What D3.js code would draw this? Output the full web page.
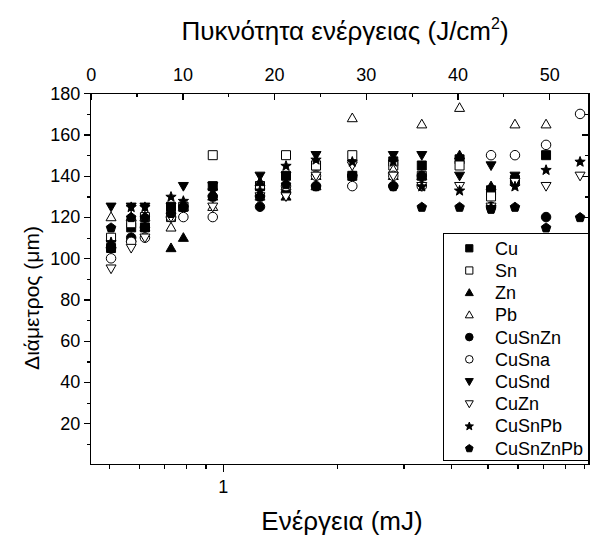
<!DOCTYPE html>
<html>
<head>
<meta charset="utf-8">
<script src="https://cdn.jsdelivr.net/npm/d3@7"></script>
<style>
  html, body { margin: 0; padding: 0; background: #fff; }
  svg { display: block; font-family: "Liberation Sans", Arial, sans-serif; }
</style>
</head>
<body>
<svg id="chart" width="590" height="539"></svg>
<script>
// ---- data ----
const energy = [0.507, 0.573, 0.623, 0.730, 0.787, 0.941, 1.254, 1.469, 1.763, 2.198, 2.82, 3.354, 4.22, 5.11, 5.91, 7.14, 8.78];

const Cu       = [105, 115, 115, 125, 125, 135, 135, 140, 145, 140, 147, 145, 148, 133, 138, 150, null];
const Sn       = [110, 117, 120, 120, 125, 150, 135, 150, 145, 150, 145, 140, 145, 130, null, null, null];
const Zn       = [107, 110, 115, 105, 110, 130, 137, 130, 135, null, 140, 140, 150, 135, null, null, null];
const Pb       = [120, 120, 120, 115, 125, 125, 130, 135, 140, 168, 143, 165, 173, null, 165, 165, null];
const CuSnZn   = [105, 110, 115, 120, 125, 130, 125, 132, 135, 140, 135, 140, null, 125, null, 120, null];
const CuSna    = [100, 108, 110, 120, 120, 120, 130, 135, 140, 135, 140, 135, null, 150, 150, 155, 170];
const CuSnd    = [125, 125, 125, 125, 135, 135, 140, 140, 150, null, 150, 150, 140, 145, 140, null, null];
const CuZn     = [95, 105, 110, 120, null, 125, 130, 130, 140, 145, 140, 135, 135, 125, 137, 135, 140];
const CuSnPb   = [108, 125, 125, 130, 128, 133, 133, 145, 148, 147, 147, 135, 133, 125, 135, 143, 147];
const CuSnZnPb = [115, 120, 120, 122, 125, 130, 130, 136, 135, 140, 135, 125, 125, 124, 125, 115, 120];

const seriesNames = ["Cu", "Sn", "Zn", "Pb", "CuSnZn", "CuSna", "CuSnd", "CuZn", "CuSnPb", "CuSnZnPb"];
const seriesValues = [Cu, Sn, Zn, Pb, CuSnZn, CuSna, CuSnd, CuZn, CuSnPb, CuSnZnPb];
const seriesShapes = ["square", "square", "triUp", "triUp", "circle", "circle", "triDown", "triDown", "star", "pentagon"];
const seriesFilled = [true, false, true, false, true, false, true, false, true, true];

const yTicksMajor = [20, 40, 60, 80, 100, 120, 140, 160, 180];
const yTicksMinor = [10, 30, 50, 70, 90, 110, 130, 150, 170];
const xTicksMajor = [1];
const xTicksMinor = [0.5, 0.6, 0.7, 0.8, 0.9, 2, 3, 4, 5, 6, 7, 8, 9];
const topTicksMajor = [0, 10, 20, 30, 40, 50];
const topTicksMinor = [5, 15, 25, 35, 45];

const xTitle = "Ενέργεια (mJ)";
const yTitle = "Διάμετρος (μm)";
const topTitle = "Πυκνότητα ενέργειας (J/cm";

// ---- layout ----
const L = 90.7, R = 589, T = 93.3, B = 464.6;
const svg = d3.select("#chart");

const x = d3.scaleLog().domain([0.448, 9.27]).range([L, R]);
const xTop = d3.scaleLinear().domain([0, (R - L) / 9.17]).range([L, R]);
const y = d3.scaleLinear().domain([0, 180]).range([B, T]);

// ---- symbol paths ----
function symPath(shape, s) {
  const p = d3.path();
  const h = s / 2;
  if (shape === "square") {
    const a = s * 0.45;
    p.rect(-a, -a, 2 * a, 2 * a);
  } else if (shape === "circle") {
    p.arc(0, 0, h * 0.95, 0, 2 * Math.PI);
  } else if (shape === "triUp" || shape === "triDown") {
    const sg = shape === "triUp" ? 1 : -1;
    const ht = s * 0.87;
    p.moveTo(0, -sg * ht * 0.58);
    p.lineTo(h, sg * ht * 0.42);
    p.lineTo(-h, sg * ht * 0.42);
    p.closePath();
  } else if (shape === "star") {
    const ro = h * 1.08, ri = ro * 0.42;
    for (let i = 0; i < 10; i++) {
      const r = i % 2 === 0 ? ro : ri;
      const a = -Math.PI / 2 + i * Math.PI / 5;
      const px = r * Math.cos(a), py = r * Math.sin(a) + ro * 0.1;
      if (i === 0) p.moveTo(px, py); else p.lineTo(px, py);
    }
    p.closePath();
  } else if (shape === "pentagon") {
    const r = h * 1.0;
    for (let i = 0; i < 5; i++) {
      const a = -Math.PI / 2 + i * 2 * Math.PI / 5;
      const px = r * Math.cos(a), py = r * Math.sin(a) + r * 0.1;
      if (i === 0) p.moveTo(px, py); else p.lineTo(px, py);
    }
    p.closePath();
  }
  return p.toString();
}

// ---- axes ----
const axisG = svg.append("g").attr("shape-rendering", "crispEdges");

function styleAxis(g) {
  g.select(".domain").remove();
  g.selectAll("line").attr("stroke", "#000").attr("stroke-width", 1.2);
  g.selectAll("text").attr("fill", "#000");
}

// bottom
axisG.append("g").attr("transform", `translate(0,${B})`)
  .call(d3.axisBottom(x).tickValues(xTicksMinor).tickSize(4).tickFormat(""))
  .call(styleAxis);
axisG.append("g").attr("transform", `translate(0,${B})`)
  .call(d3.axisBottom(x).tickValues(xTicksMajor).tickSize(7).tickPadding(8.5).tickFormat(d3.format("d")))
  .call(styleAxis)
  .selectAll("text").attr("font-size", 18);

// left
axisG.append("g").attr("transform", `translate(${L},0)`)
  .call(d3.axisLeft(y).tickValues(yTicksMinor).tickSize(4).tickFormat(""))
  .call(styleAxis);
axisG.append("g").attr("transform", `translate(${L},0)`)
  .call(d3.axisLeft(y).tickValues(yTicksMajor).tickSize(7).tickPadding(3.5).tickFormat(d3.format("d")))
  .call(styleAxis)
  .selectAll("text").attr("font-size", 18);

// right (inward, no labels)
axisG.append("g").attr("transform", `translate(${R},0)`)
  .call(d3.axisRight(y).tickValues(yTicksMinor).tickSizeInner(-4).tickSizeOuter(0).tickFormat(""))
  .call(styleAxis);
axisG.append("g").attr("transform", `translate(${R},0)`)
  .call(d3.axisRight(y).tickValues(yTicksMajor).tickSizeInner(-7).tickSizeOuter(0).tickFormat(""))
  .call(styleAxis);

// top (ticks inward, labels above)
axisG.append("g").attr("transform", `translate(0,${T})`)
  .call(d3.axisTop(xTop).tickValues(topTicksMinor).tickSizeInner(-4).tickSizeOuter(0).tickFormat(""))
  .call(styleAxis);
axisG.append("g").attr("transform", `translate(0,${T})`)
  .call(d3.axisTop(xTop).tickValues(topTicksMajor).tickSizeInner(-7).tickSizeOuter(0).tickPadding(12.3).tickFormat(d3.format("d")))
  .call(styleAxis)
  .selectAll("text").attr("font-size", 18);

// frame
axisG.append("rect")
  .attr("x", L).attr("y", T).attr("width", R - L).attr("height", B - T)
  .attr("fill", "none").attr("stroke", "#000").attr("stroke-width", 1.3);

// ---- data points ----
const ptsG = svg.append("g");
seriesNames.forEach((name, si) => {
  const pts = energy.map((e, i) => ({ e, v: seriesValues[si][i] })).filter(d => d.v != null);
  ptsG.append("g").selectAll("path").data(pts).join("path")
    .attr("d", symPath(seriesShapes[si], 10))
    .attr("transform", d => `translate(${x(d.e)},${y(d.v)})`)
    .attr("fill", seriesFilled[si] ? "#000" : "#fff")
    .attr("stroke", "#000")
    .attr("stroke-width", 1);
});

// ---- legend ----
const lg = svg.append("g");
lg.append("rect").attr("x", 443.3).attr("y", 233.3).attr("width", 588 - 443.3).attr("height", 460.7 - 233.3)
  .attr("fill", "#fff").attr("stroke", "#000").attr("stroke-width", 1).attr("shape-rendering", "crispEdges");
seriesNames.forEach((name, si) => {
  const ry = 248.3 + si * 22.2;
  lg.append("path").attr("d", symPath(seriesShapes[si], 8))
    .attr("transform", `translate(469.3,${ry})`)
    .attr("fill", seriesFilled[si] ? "#000" : "#fff").attr("stroke", "#000").attr("stroke-width", 1);
  lg.append("text").attr("x", 495).attr("y", ry).attr("dy", "0.36em")
    .attr("font-size", 18).attr("fill", "#000").text(name);
});

// ---- titles ----
svg.append("text").attr("x", 342).attr("y", 530).attr("text-anchor", "middle")
  .attr("font-size", 26).attr("fill", "#000").text(xTitle);

svg.append("text").attr("transform", "translate(39,298) rotate(-90)").attr("text-anchor", "middle")
  .attr("font-size", 21).attr("fill", "#000").text(yTitle);

const tt = svg.append("text").attr("x", 345).attr("y", 40).attr("text-anchor", "middle")
  .attr("font-size", 26).attr("fill", "#000");
tt.append("tspan").text(topTitle);
tt.append("tspan").attr("font-size", 16).attr("dy", -11).text("2");
tt.append("tspan").attr("dy", 11).text(")");
</script>
</body>
</html>
